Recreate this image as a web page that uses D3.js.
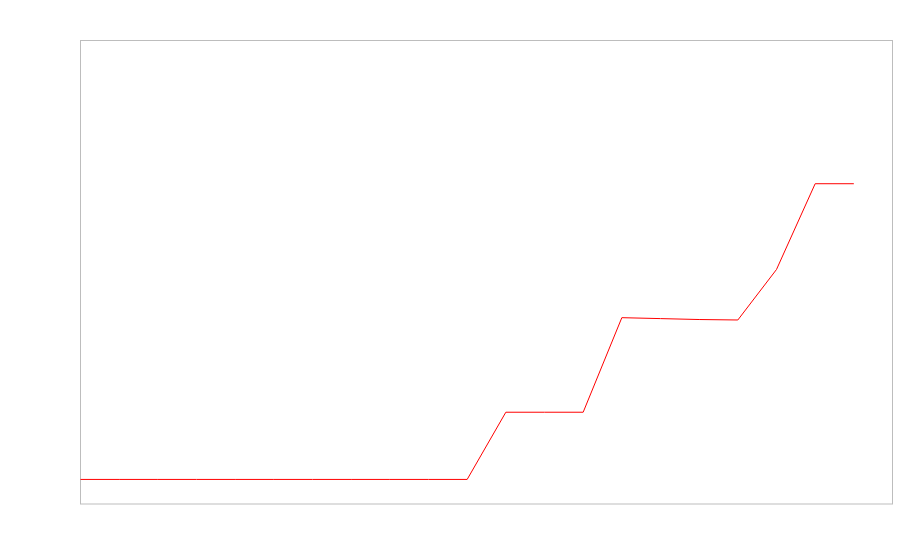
<!DOCTYPE html>
<html>
<head>
<meta charset="utf-8">
<script src="https://cdn.jsdelivr.net/npm/d3@7"></script>
<style>
  body { margin: 0; background: #fff; }
</style>
</head>
<body>
<div id="chart"></div>
<script>
// Data (y as % of plot height)
// ==============================
var steps = d3.range(0, 21);
var values = [5.3, 5.3, 5.3, 5.3, 5.3, 5.3, 5.3, 5.3, 5.3, 5.3, 5.3,
              19.8, 19.8, 19.8, 40.2, 40.0, 39.8, 39.7, 50.6, 69.1, 69.1];

var svgWidth = 900;
var svgHeight = 560;

var margin = {
  top: 40.5,
  right: 7.5,
  bottom: 56,
  left: 80.5
};

var width = svgWidth - margin.left - margin.right;
var height = svgHeight - margin.top - margin.bottom;

var svg = d3.select("#chart")
  .append("svg")
  .attr("width", svgWidth)
  .attr("height", svgHeight);

var chartGroup = svg.append("g")
  .attr("transform", `translate(${margin.left}, ${margin.top})`);

// Scales
// ==============================
var xScale = d3.scaleLinear()
  .domain([0, 21])
  .range([0, width]);

var yScale = d3.scaleLinear()
  .domain([0, 100])
  .range([height, 0]);

// Frame
// ==============================
chartGroup.append("rect")
  .attr("width", width)
  .attr("height", height)
  .attr("fill", "none")
  .attr("stroke", "#bdbdbd")
  .attr("stroke-width", 1);

// Line
// ==============================
var line = d3.line()
  .x((d, i) => xScale(steps[i]))
  .y(d => yScale(d));

chartGroup.append("path")
  .datum(values)
  .attr("fill", "none")
  .attr("stroke", "red")
  .attr("stroke-width", 1)
  .attr("d", line);
</script>
</body>
</html>
